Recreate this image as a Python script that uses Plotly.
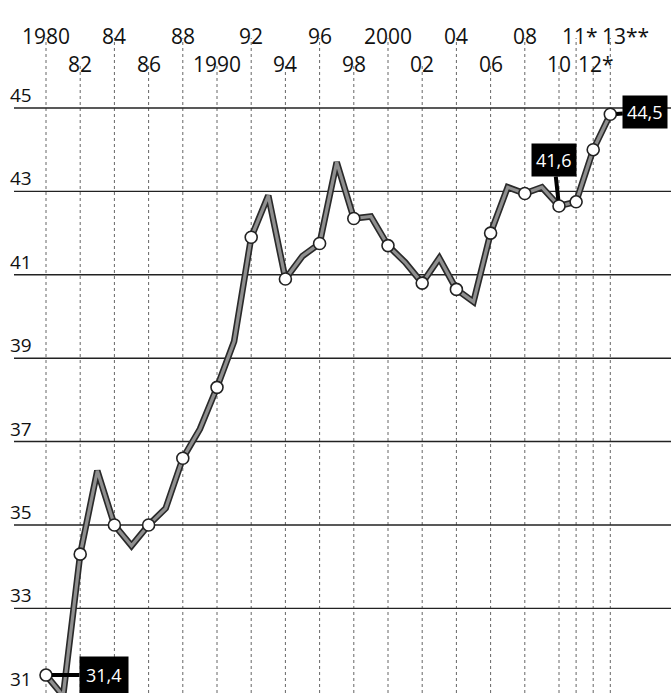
import plotly.graph_objects as go

years = list(range(1980, 2014))
values = [31.4, 30.9, 34.3, 36.3, 35.0, 34.5, 35.0, 35.4, 36.6, 37.3,
          38.3, 39.4, 41.9, 42.9, 40.9, 41.45, 41.75, 43.7, 42.35, 42.4,
          41.7, 41.3, 40.8, 41.4, 40.65, 40.35, 42.0, 43.1, 42.95, 43.1,
          42.65, 42.75, 44.0, 44.85]
marker_years = list(range(1980, 2011, 2)) + [2011, 2012, 2013]

top_row_years = [1980, 1984, 1988, 1992, 1996, 2000, 2004, 2008, 2011, 2013]
top_row_labels = ["1980", "84", "88", "92", "96", "2000", "04", "08", "11*", "13**"]
second_row_years = [1982, 1986, 1990, 1994, 1998, 2002, 2006, 2010, 2012]
second_row_labels = ["82", "86", "1990", "94", "98", "02", "06", "10", "12*"]

y_ticks = [45, 43, 41, 39, 37, 35, 33, 31]
y_grid = [45, 43, 41, 39, 37, 35, 33]

callout_years = [1980, 2010, 2013]
callout_texts = ["31,4", "41,6", "44,5"]

FONT = "Open Sans"
W, H = 671, 693
x_range = [1977.31, 2016.55]
y_range = [30.97, 47.59]

def val(yr):
    return values[years.index(yr)]

fig = go.Figure()

fig.add_trace(go.Scatter(x=years, y=values, mode="lines",
                         line=dict(color="#2a2a2a", width=6.5),
                         hoverinfo="skip", showlegend=False))
fig.add_trace(go.Scatter(x=years, y=values, mode="lines",
                         line=dict(color="#8f8f8f", width=3.2),
                         hoverinfo="skip", showlegend=False))
fig.add_trace(go.Scatter(x=marker_years, y=[val(y) for y in marker_years],
                         mode="markers",
                         marker=dict(size=12, color="white",
                                     line=dict(color="#222", width=1.6)),
                         hoverinfo="skip", showlegend=False))

shapes = []
for yr in top_row_years:
    shapes.append(dict(type="line", xref="x", yref="paper", x0=yr, x1=yr,
                       y0=0, y1=1 - 38 / H, layer="below",
                       line=dict(color="#666", width=1, dash="dot")))
for yr in second_row_years:
    shapes.append(dict(type="line", xref="x", yref="paper", x0=yr, x1=yr,
                       y0=0, y1=1 - 66 / H, layer="below",
                       line=dict(color="#666", width=1, dash="dot")))
for v in y_grid:
    shapes.append(dict(type="line", xref="paper", yref="y", x0=14 / W, x1=1,
                       y0=v, y1=v, layer="below",
                       line=dict(color="#222", width=1.4)))

annotations = []
top_shift = {"11*": 4, "13**": 15}
for yr, lab in zip(top_row_years, top_row_labels):
    annotations.append(dict(x=yr, y=1 - 20 / H, xref="x", yref="paper",
                            text=lab, showarrow=False,
                            xshift=top_shift.get(lab, 0),
                            font=dict(family=FONT, size=21, color="#111")))
for yr, lab in zip(second_row_years, second_row_labels):
    shift = 3 if lab.endswith("*") else 0
    annotations.append(dict(x=yr, y=1 - 48 / H, xref="x", yref="paper",
                            text=lab, showarrow=False, xshift=shift,
                            font=dict(family=FONT, size=21, color="#111")))
for v in y_ticks:
    annotations.append(dict(x=8 / W, y=v, xref="paper", yref="y",
                            text=str(v), showarrow=False, xanchor="left",
                            yanchor="middle", yshift=13,
                            font=dict(family=FONT, size=19, color="#111")))

offsets = {1980: (58, 0), 2010: (-5, -46), 2013: (35, -2)}
pads = {1980: 6, 2010: 4, 2013: 4}
for yr, txt in zip(callout_years, callout_texts):
    ax, ay = offsets[yr]
    annotations.append(dict(x=yr, y=val(yr), xref="x", yref="y", text=txt,
                            showarrow=True, ax=ax, ay=ay, arrowhead=0,
                            arrowwidth=4, arrowcolor="black", standoff=6,
                            bgcolor="black", borderpad=pads[yr],
                            font=dict(family=FONT, size=18, color="white")))

fig.update_layout(
    width=W, height=H,
    margin=dict(l=0, r=0, t=0, b=0),
    paper_bgcolor="white", plot_bgcolor="white",
    xaxis=dict(range=x_range, visible=False, fixedrange=True),
    yaxis=dict(range=y_range, visible=False, fixedrange=True),
    shapes=shapes, annotations=annotations,
)

fig.write_html("out.html", config={"displayModeBar": False},
               post_script="document.body.style.margin='0';document.body.style.overflow='hidden';")
